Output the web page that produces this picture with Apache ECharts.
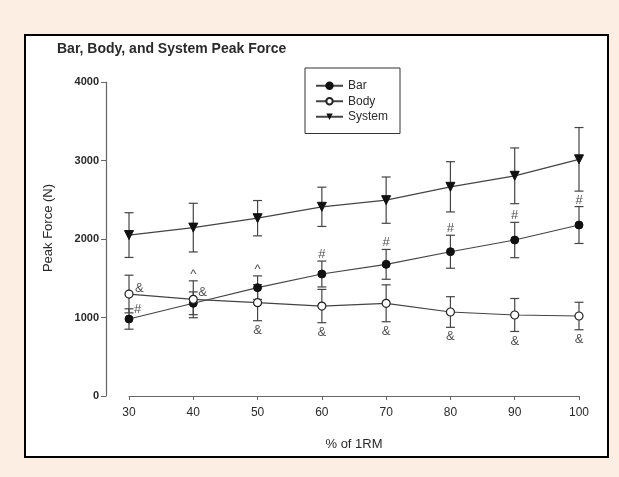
<!DOCTYPE html>
<html>
<head>
<meta charset="utf-8">
<script src="https://cdn.jsdelivr.net/npm/echarts@6/dist/echarts.min.js"></script>
<style>
html,body{margin:0;padding:0;background:#fdeee4;}
#c{width:619px;height:477px;}
</style>
</head>
<body>
<div id="c"></div>
<script>
// ---- data ----
const pct = [30, 40, 50, 60, 70, 80, 90, 100];
const barForce = [981, 1181, 1380, 1554, 1677, 1838, 1987, 2178];
const barErr = [130, 145, 150, 165, 190, 210, 225, 235];
const bodyForce = [1299, 1232, 1189, 1146, 1181, 1070, 1032, 1019];
const bodyErr = [240, 235, 230, 212, 235, 195, 210, 175];
const systemForce = [2050, 2145, 2265, 2410, 2495, 2665, 2805, 3015];
const systemErr = [285, 310, 225, 250, 295, 320, 355, 405];
const barNote = ['#', '^', '^', '#', '#', '#', '#', '#'];
const bodyNote = ['&', '&', '&', '&', '&', '&', '&', '&'];
const yTicks = [0, 1000, 2000, 3000, 4000];
const xTicks = [30, 40, 50, 60, 70, 80, 90, 100];

const FONT = '"Liberation Sans", Arial, sans-serif';
const INK = '#2a2a2a';

function errSeries(vals, errs, name) {
  return {
    type: 'custom', name: name + ' err', z: 2, silent: true,
    data: pct.map((x, i) => [x, vals[i] - errs[i], vals[i] + errs[i]]),
    renderItem: function (params, api) {
      const lo = api.coord([api.value(0), api.value(1)]);
      const hi = api.coord([api.value(0), api.value(2)]);
      const hw = 4.5;
      const st = { stroke: '#444', lineWidth: 1.2 };
      return {
        type: 'group',
        children: [
          { type: 'line', shape: { x1: lo[0], y1: lo[1], x2: hi[0], y2: hi[1] }, style: st },
          { type: 'line', shape: { x1: lo[0] - hw, y1: lo[1], x2: lo[0] + hw, y2: lo[1] }, style: st },
          { type: 'line', shape: { x1: hi[0] - hw, y1: hi[1], x2: hi[0] + hw, y2: hi[1] }, style: st }
        ]
      };
    }
  };
}

// annotation anchors (placement rules in code)
const noteItems = [];
pct.forEach((x, i) => {
  const bt = barNote[i];
  if (i === 0) {
    noteItems.push({ value: [x, barForce[i] + barErr[i]], label: { position: 'right', distance: 5, offset: [0, 1] }, t: bt });
  } else if (bt === '^' && i === 1) {
    noteItems.push({ value: [x, bodyForce[i] + bodyErr[i]], label: { position: 'top', distance: 0 }, t: bt });
  } else {
    noteItems.push({ value: [x, barForce[i] + barErr[i]], label: { position: 'top', distance: 0 }, t: bt });
  }
  const ot = bodyNote[i];
  if (i === 0) {
    noteItems.push({ value: [x, bodyForce[i]], label: { position: 'right', distance: 6, offset: [0, -6] }, t: ot });
  } else if (i === 1) {
    noteItems.push({ value: [x, bodyForce[i]], label: { position: 'right', distance: 5, offset: [0, -7] }, t: ot });
  } else {
    noteItems.push({ value: [x, bodyForce[i] - bodyErr[i]], label: { position: 'bottom', distance: 3 }, t: ot });
  }
});

const chart = echarts.init(document.getElementById('c'), null, { renderer: 'canvas' });
chart.setOption({
  backgroundColor: '#fdeee4',
  animation: false,
  textStyle: { fontFamily: FONT },
  graphic: [{
    type: 'rect', z: -10, silent: true,
    shape: { x: 25, y: 35, width: 583, height: 422 },
    style: { fill: '#ffffff', stroke: '#000', lineWidth: 2 }
  }],
  title: {
    text: 'Bar, Body, and System Peak Force',
    left: 57, top: 42, padding: 0,
    textStyle: { fontFamily: FONT, fontSize: 14, fontWeight: 'bold', color: INK }
  },
  legend: {
    data: ['Bar', 'Body', 'System'],
    orient: 'vertical', left: 305, top: 68,
    borderColor: '#333', borderWidth: 1, borderRadius: 0,
    padding: [11, 12, 10, 10], itemGap: 2, itemWidth: 27, itemHeight: 8,
    textStyle: { fontFamily: FONT, fontSize: 12, color: INK, lineHeight: 13.5 },
    selectedMode: false
  },
  grid: { left: 129, right: 40, top: 82, bottom: 81, containLabel: false },
  xAxis: {
    type: 'value', min: 30, max: 100, interval: 10,
    name: '% of 1RM', nameLocation: 'middle', nameGap: 42,
    nameTextStyle: { fontFamily: FONT, fontSize: 13, color: INK },
    axisLine: { lineStyle: { color: '#666', width: 1.2 } },
    axisTick: { length: 4, lineStyle: { color: '#666' } },
    axisLabel: { fontFamily: FONT, fontSize: 12, color: INK, margin: 11,
      formatter: v => xTicks.includes(v) ? String(v) : '' },
    splitLine: { show: false }
  },
  yAxis: {
    type: 'value', min: 0, max: 4000, interval: 1000, offset: 23,
    name: 'Peak Force (N)', nameLocation: 'middle', nameGap: 51,
    nameTextStyle: { fontFamily: FONT, fontSize: 13, color: INK, padding: [0, 0, 0, 22] },
    axisLine: { show: true, lineStyle: { color: '#666', width: 1.2 } },
    axisTick: { show: true, length: 5, lineStyle: { color: '#666' } },
    axisLabel: { fontFamily: FONT, fontSize: 11, fontWeight: 'bold', color: INK, margin: 7,
      formatter: v => yTicks.includes(v) ? String(v) : '' },
    splitLine: { show: false }
  },
  series: [
    errSeries(systemForce, systemErr, 'System'),
    errSeries(bodyForce, bodyErr, 'Body'),
    errSeries(barForce, barErr, 'Bar'),
    {
      name: 'System', type: 'line', z: 4,
      data: pct.map((x, i) => [x, systemForce[i]]),
      symbol: 'triangle', symbolRotate: 180, symbolSize: 9,
      lineStyle: { color: '#444', width: 1.2 },
      itemStyle: { color: '#111', borderColor: '#111' }
    },
    {
      name: 'Bar', type: 'line', z: 5,
      data: pct.map((x, i) => [x, barForce[i]]),
      symbol: 'circle', symbolSize: 8,
      lineStyle: { color: '#444', width: 1.2 },
      itemStyle: { color: '#111', borderColor: '#111', borderWidth: 1 }
    },
    {
      name: 'Body', type: 'line', z: 5,
      data: pct.map((x, i) => [x, bodyForce[i]]),
      symbol: 'circle', symbolSize: 8,
      lineStyle: { color: '#444', width: 1.2 },
      itemStyle: { color: '#fff', borderColor: '#222', borderWidth: 1.2 }
    },
    {
      name: 'notes', type: 'scatter', z: 6, silent: true,
      symbolSize: 0.1,
      itemStyle: { color: 'rgba(0,0,0,0)' },
      data: noteItems.map(n => ({ value: n.value, t: n.t, label: n.label })),
      label: {
        show: true, fontFamily: FONT, fontSize: 13, color: '#222',
        formatter: p => p.data.t
      }
    }
  ]
});
</script>
</body>
</html>
